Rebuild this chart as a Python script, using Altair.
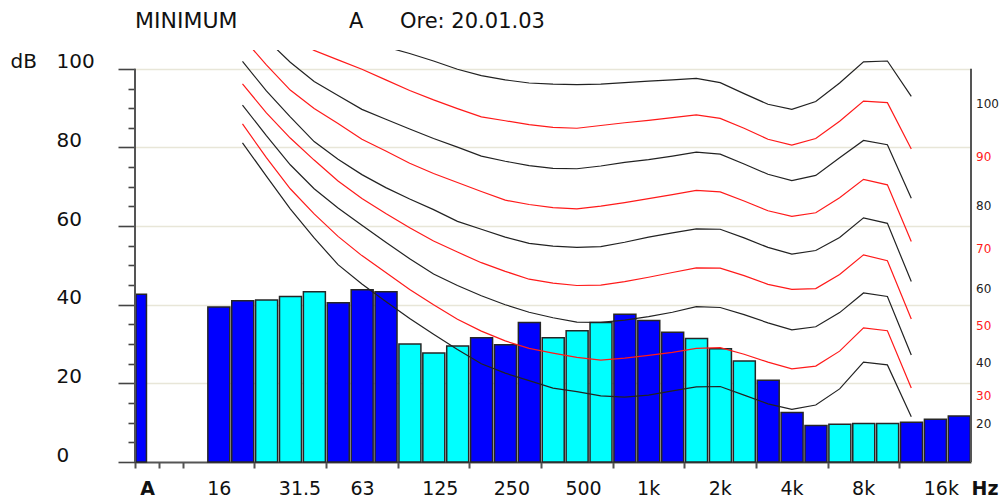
import altair as alt
import pandas as pd

# ---------------- data ----------------
bands = ["12.5", "16", "20", "25", "31.5", "40", "50", "63", "80", "100", "125", "160",
         "200", "250", "315", "400", "500", "630", "800", "1k", "1.25k", "1.6k", "2k",
         "2.5k", "3.15k", "4k", "5k", "6.3k", "8k", "10k", "12.5k", "16k", "20k"]
levels = [None, 39.4, 41.0, 41.2, 42.1, 43.3, 40.5, 43.8, 43.3, 30.0, 27.7, 29.5,
          31.6, 29.8, 35.5, 31.6, 33.4, 35.5, 37.6, 36.0, 33.0, 31.4, 28.8,
          25.7, 20.8, 12.6, 9.3, 9.6, 9.8, 9.8, 10.1, 10.9, 11.7]
a_level = 42.7

# loudness curves, 20 Hz ... 12.5 kHz
curve_bands = bands[2:31]
curve_20 = [81.2, 72.7, 64.4, 57.0, 50.2, 45.3, 40.8, 36.5, 32.5, 28.6, 25.0, 22.6, 20.7, 18.8, 17.9,
            16.8, 16.5, 17.0, 18.1, 19.1, 19.2, 17.0, 14.8, 13.4, 14.5, 18.6, 25.4, 24.7, 11.5]
curve_30 = [86.0, 77.4, 69.5, 63.1, 57.4, 52.5, 48.2, 43.9, 40.0, 36.3, 33.3, 30.8, 28.9, 27.7, 26.6,
            25.9, 26.4, 27.1, 27.9, 28.9, 29.1, 27.4, 25.4, 23.7, 24.4, 28.2, 34.1, 33.4, 18.8]
curve_40 = [90.8, 83.0, 75.6, 69.5, 64.6, 60.2, 55.9, 51.7, 47.8, 44.9, 42.3, 40.0, 38.1, 36.7, 35.6,
            35.5, 36.1, 37.0, 38.1, 39.5, 39.3, 37.5, 35.4, 33.6, 34.4, 38.0, 43.0, 42.1, 27.2]
curve_50 = [96.2, 88.8, 82.4, 76.8, 71.5, 67.0, 63.2, 59.6, 56.2, 53.4, 50.7, 48.5, 46.5, 45.5, 44.9,
            45.0, 45.9, 47.0, 48.2, 49.4, 49.3, 47.4, 45.2, 43.9, 44.1, 47.7, 52.7, 51.2, 36.4]
curve_60 = [101.9, 94.4, 87.8, 81.5, 77.0, 73.1, 69.8, 66.9, 64.2, 61.2, 59.2, 57.2, 55.6, 54.9, 54.6,
            54.8, 55.9, 57.2, 58.3, 59.3, 59.2, 57.0, 54.6, 52.9, 53.8, 57.1, 62.1, 60.7, 45.9]
curve_70 = [108.0, 101.0, 94.6, 89.9, 86.1, 82.1, 79.1, 76.0, 73.4, 71.1, 68.8, 66.6, 65.5, 64.7, 64.4,
            65.1, 66.0, 67.0, 68.0, 69.1, 68.7, 66.4, 63.9, 62.5, 63.4, 67.2, 71.9, 70.5, 56.1]
curve_80 = [114.0, 107.5, 101.7, 96.8, 93.2, 89.7, 87.2, 84.7, 82.3, 80.1, 77.8, 76.5, 75.4, 74.7, 74.6,
            75.3, 76.2, 76.9, 77.8, 78.8, 78.3, 75.8, 73.2, 71.6, 72.9, 77.4, 81.8, 80.7, 67.1]
curve_90 = [117.0, 112.0, 108.0, 104.7, 102.3, 99.9, 97.2, 94.5, 92.1, 89.9, 87.8, 86.8, 85.8, 85.1, 84.9,
            85.6, 86.3, 86.9, 87.6, 88.3, 87.4, 84.9, 82.1, 80.6, 82.3, 86.7, 91.8, 91.4, 79.6]
curve_100 = [124.0, 119.7, 116.0, 113.0, 110.2, 107.8, 105.6, 103.9, 102.0, 99.9, 98.3, 97.2, 96.4, 96.1, 96.0,
             96.1, 96.5, 96.9, 97.2, 97.6, 96.5, 93.7, 91.0, 89.7, 91.7, 96.4, 101.8, 102.0, 93.0]
curve_phons = [20, 30, 40, 50, 60, 70, 80, 90, 100]
curves = [curve_20, curve_30, curve_40, curve_50, curve_60, curve_70, curve_80, curve_90, curve_100]

x_labels = ["16", "31.5", "63", "125", "250", "500", "1k", "2k", "4k", "8k", "16k"]

# ---------------- tables ----------------
N_SLOTS = 35           # A, blank, 33 third-octave bands
OFFSET = 2             # slot of the first band (12.5 Hz)

bar_rows = [{"x0": 0.04, "x1": 0.48, "base": 0, "level": a_level, "grp": "blue"}]
for j, (b, v) in enumerate(zip(bands, levels)):
    if v is None:
        continue
    s = j + OFFSET
    bar_rows.append({"x0": s + 0.05, "x1": s + 0.97, "base": 0, "level": v,
                     "grp": "blue" if (j // 3) % 2 == 0 else "cyan"})
bar_df = pd.DataFrame(bar_rows)

curve_rows = []
for p, vals in zip(curve_phons, curves):
    for b, v in zip(curve_bands, vals):
        curve_rows.append({"phon": str(p), "slot": bands.index(b) + OFFSET + 0.5, "level": v})
curve_df = pd.DataFrame(curve_rows)

lab_df = pd.DataFrame({"phon": [str(p) for p in curve_phons],
                       "end": [c[-1] for c in curves],
                       "xpos": [N_SLOTS] * len(curve_phons)})

frame_df = pd.DataFrame({"x": [0, N_SLOTS], "y0": [0, 0], "y1": [100, 100]})

phon_domain = [str(p) for p in curve_phons]
phon_range = ["#222222" if (p // 10) % 2 == 0 else "#ff1a1a" for p in curve_phons]

# ---------------- axes ----------------
FONT = "DejaVu Sans"
tick_slots = [0, 1, 2] + list(range(5, 33, 3))
label_pairs = [(0.2, "A")] + [(bands.index(l) + OFFSET, l) for l in x_labels] + [(N_SLOTS, "Hz")]
x_values = sorted(set(tick_slots) | {v for v, _ in label_pairs})
label_expr = "".join(f"datum.value == {v} ? '{t}' : " for v, t in label_pairs) + "''"

x_scale = alt.Scale(domain=[0, N_SLOTS], nice=False, zero=False)
y_scale = alt.Scale(domain=[0, 104.8], nice=False, zero=True)

x_axis = alt.Axis(
    values=x_values, labelExpr=label_expr, title=None, grid=False,
    domainColor="#555555", domainWidth=2, tickColor="#555555", tickWidth=2, tickSize=6,
    tickOpacity={"condition": {"test": f"indexof({tick_slots}, datum.value) >= 0", "value": 1}, "value": 0},
    labelFont=FONT, labelFontSize=19, labelColor="#111111", labelAlign="left",
    labelBaseline="alphabetic", labelPadding=26, labelFlush=False, labelOverlap=False, labelBound=False,
    labelFontWeight={"condition": {"test": f"datum.value == 0.2 || datum.value == {N_SLOTS}", "value": "bold"},
                     "value": "normal"},
)

y_axis = alt.Axis(
    values=list(range(0, 101, 5)),
    labelExpr="datum.value % 20 == 0 ? datum.label : ''",
    domain=False, tickColor="#444444", tickWidth=1.6,
    tickSize={"condition": {"test": "datum.value % 20 == 0", "value": 17}, "value": 7},
    grid=True, gridColor="#e8e6d8", gridWidth=1.5,
    gridOpacity={"condition": {"test": "datum.value % 20 == 0 && datum.value > 0", "value": 1}, "value": 0},
    labelFont=FONT, labelFontSize=20, labelColor="#111111", labelAlign="left",
    labelBaseline="alphabetic", labelPadding=62, labelOffset=-1, labelOverlap=False, labelBound=False,
    title="dB", titleAngle=0, titleAlign="left", titleBaseline="alphabetic",
    titleX=-125, titleY=17, titleFont=FONT, titleFontSize=20, titleFontWeight="normal", titleColor="#111111",
)


def X(field):
    return alt.X(field, type="quantitative", scale=x_scale, axis=x_axis)


def Y(field):
    return alt.Y(field, type="quantitative", scale=y_scale, axis=y_axis)


# ---------------- layers ----------------
bars = alt.Chart(bar_df).mark_bar(stroke="#262626", strokeWidth=1.5).encode(
    x=X("x0"), x2="x1",
    y=Y("level"), y2="base",
    color=alt.Color("grp:N", scale=alt.Scale(domain=["blue", "cyan"], range=["#0000ff", "#00ffff"]), legend=None),
)

lines = alt.Chart(curve_df).mark_line(clip=True, strokeWidth=1.2).encode(
    x=X("slot"), y=Y("level"),
    color=alt.Color("phon:N", scale=alt.Scale(domain=phon_domain, range=phon_range), legend=None),
)

frame = alt.Chart(frame_df).mark_rule(color="#555555", strokeWidth=2).encode(
    x=X("x"), y=Y("y0"), y2="y1",
)

end_labels = alt.Chart(lab_df).mark_text(
    align="left", baseline="middle", dx=5, dy=7.5, font=FONT, fontSize=12
).encode(
    x=X("xpos"), y=Y("end"),
    text="phon:N",
    color=alt.Color("phon:N", scale=alt.Scale(domain=phon_domain, range=phon_range), legend=None),
)

head1 = alt.Chart(pd.DataFrame({"t": ["MINIMUM"]})).mark_text(
    align="left", baseline="alphabetic", font=FONT, fontSize=22, color="#111111"
).encode(x=alt.value(0), y=alt.value(-22), text="t:N")
head2 = alt.Chart(pd.DataFrame({"t": ["A"]})).mark_text(
    align="left", baseline="alphabetic", font=FONT, fontSize=21, color="#111111"
).encode(x=alt.value(214), y=alt.value(-22), text="t:N")
head3 = alt.Chart(pd.DataFrame({"t": ["Ore: 20.01.03"]})).mark_text(
    align="left", baseline="alphabetic", font=FONT, fontSize=21, color="#111111"
).encode(x=alt.value(265), y=alt.value(-22), text="t:N")

chart = alt.layer(bars, lines, frame, end_labels, head1, head2, head3).resolve_scale(
    color="independent"
).properties(
    width=836, height=412,
    autosize=alt.AutoSizeParams(type="none"),
    padding={"left": 135, "top": 50, "right": 33, "bottom": 35},
    background="white",
).configure_view(stroke=None)

chart.save("out.html", embed_options={"renderer": "svg", "actions": False})
